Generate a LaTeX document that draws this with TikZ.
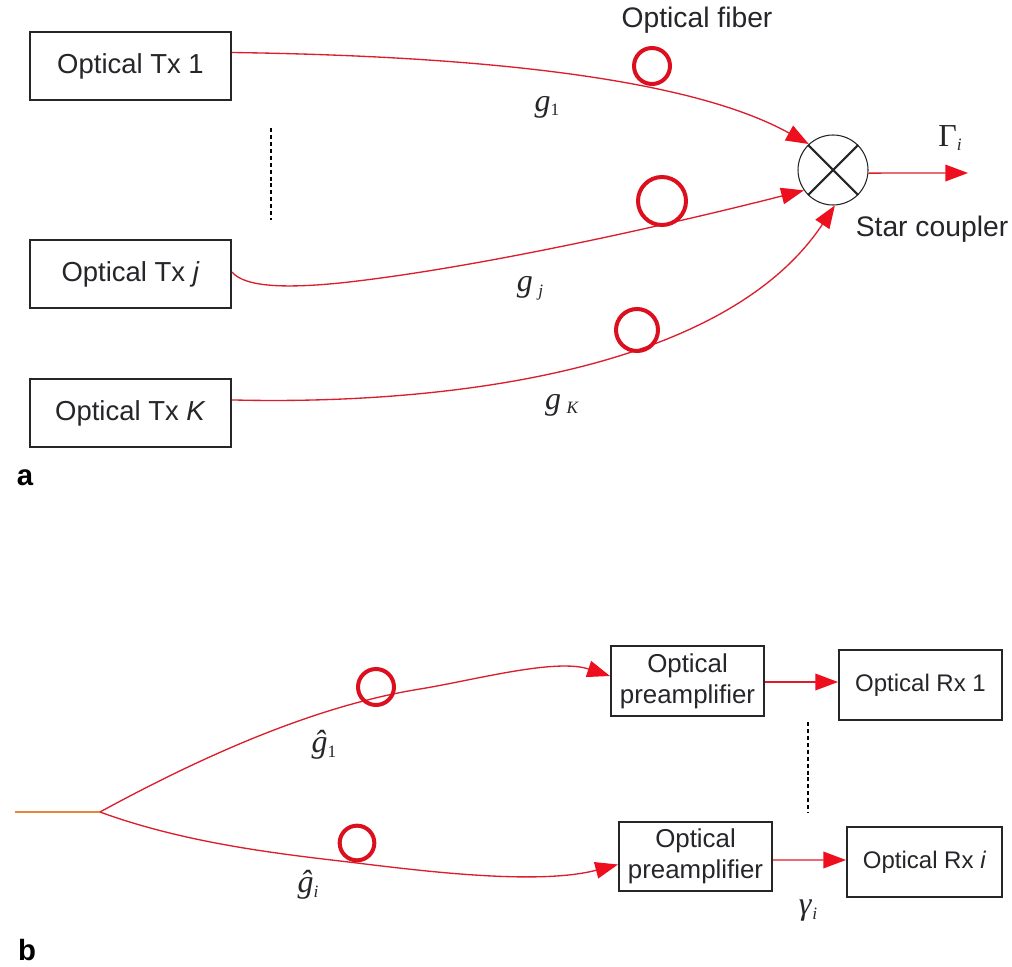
\documentclass[tikz,border=0pt]{standalone}
\usepackage{fontspec}
\setmainfont{Liberation Sans}
\newfontfamily\mathserif{Liberation Serif}
\usetikzlibrary{arrows.meta}
\definecolor{fibre}{HTML}{DC1E2C}
\definecolor{marker}{HTML}{DC0F1E}
\definecolor{tip}{HTML}{EE0F1E}
\definecolor{ink}{HTML}{26262A}
\definecolor{feed}{HTML}{E8853A}
\newcommand{\symb}[2]{{\mathserif\fontsize{24}{26}\selectfont #1\raisebox{-3.5pt}{\fontsize{13}{15}\selectfont #2}}}
\tikzset{
  blockA/.style={draw=ink,line width=1.5pt,fill=white,text=ink,align=center,inner sep=0pt,font=\fontsize{20.6}{24}\selectfont,minimum width=150.75pt,minimum height=51pt},
  blockP/.style={draw=ink,line width=1.5pt,fill=white,text=ink,align=center,inner sep=0pt,font=\fontsize{19.4}{23.5}\selectfont,minimum width=114.75pt,minimum height=52pt},
  blockR/.style={draw=ink,line width=1.5pt,fill=white,text=ink,align=center,inner sep=0pt,font=\fontsize{18}{22}\selectfont,minimum height=52.5pt},
  fibreline/.style={draw=fibre,line width=1pt},
  arrowline/.style={fibreline,-{Triangle[length=17pt,width=12.5pt,color=tip]}},
  loopmark/.style={circle,draw=marker,line width=3pt,inner sep=0pt},
  caption/.style={text=ink,font=\fontsize{21.2}{24}\selectfont,inner sep=0pt},
  symbol/.style={text=ink,inner sep=0pt},
  panel/.style={text=black,font=\fontsize{22}{24}\selectfont\bfseries,inner sep=0pt},
  dots/.style={draw=black,line width=1.5pt,dash pattern=on 3pt off 2.2pt}
}
\begin{document}
\begin{tikzpicture}[x=0.75pt,y=-0.75pt]
\useasboundingbox[fill=white] (0,0) rectangle (1012,966);
% panel a
\node[blockA] (tx1) at (130.5,66.5) {Optical Tx 1};
\node[blockA] (txj) at (130.5,274) {Optical Tx \textit{j}};
\node[blockA] (txk) at (130.5,413) {Optical Tx \textit{K}};
\node[circle,draw=ink,line width=0.8pt,fill=white,minimum size=52.5pt,inner sep=0pt] (star) at (833,170) {};
\draw[ink,line width=1.6pt] (star.45) -- (star.225) (star.135) -- (star.315);
\coordinate (gammaEnd) at (968,173);
\draw[arrowline] (star.-5) -- (gammaEnd);
\draw[arrowline] ([yshift=10.5pt]tx1.east) .. controls (480,56) and (690,78) .. (star.133);
\draw[arrowline] ([yshift=1.5pt]txj.east) .. controls (245,288) and (290,288) .. (340,283) .. controls (480,268) and (680,222) .. (star.215);
\draw[arrowline] ([yshift=9.8pt]txk.east) .. controls (430,405) and (722,376) .. (star.-87);
\node[loopmark,minimum size=27pt] (m1) at (652,66) {};
\node[loopmark,minimum size=36pt] (mj) at (662,201) {};
\node[loopmark,minimum size=31.5pt] (mk) at (637,330) {};
\node[caption] (fibreLabel) at (697,20) {Optical fiber};
\node[caption] (starLabel) at (932,229) {Star coupler};
\node[symbol] (g1) at (547,107) {\symb{\textit{g}}{1}};
\node[symbol] (gj) at (530,288) {\symb{\textit{g}\,}{\textit{j}}};
\node[symbol] (gk) at (562,405) {\symb{\textit{g}\,}{\textit{K}}};
\node[symbol] (bigG) at (950,138) {\symb{Γ}{\textit{i}}};
\coordinate (dotA1) at (271,128);
\coordinate (dotA2) at (271,220);
\draw[dots] (dotA1) -- (dotA2);
\node[panel] (pa) at (25,478) {a};
% panel b
\node[blockP] (pre1) at (687.5,681) {Optical\\preamplifier};
\node[blockP] (pre2) at (695.5,856.5) {Optical\\preamplifier};
\node[blockR,minimum width=122.25pt] (rx1) at (920.5,685) {Optical Rx 1};
\node[blockR,minimum width=116.25pt] (rxi) at (924.5,862) {Optical Rx \textit{i}};
\draw[arrowline] ([yshift=-0.75pt]pre1.east) -- (rx1.west |- {0,682});
\draw[arrowline] ([yshift=-2.6pt]pre2.east) -- (rxi.west |- {0,860});
\coordinate (feedIn) at (15,812);
\coordinate (split) at (100,812);
\draw[feed,line width=1pt] (feedIn) -- (split);
\draw[arrowline] (split) .. controls (210,752) and (320,705) .. (420,689) .. controls (475,680) and (555,658) .. ([yshift=3.75pt]pre1.west);
\draw[arrowline] (split) .. controls (190,845) and (290,855) .. (357,863) .. controls (430,872) and (540,885) .. ([yshift=-6pt]pre2.west);
\node[loopmark,minimum size=27pt] (m2) at (376,687) {};
\node[loopmark,minimum size=26pt] (m3) at (357,843) {};
\node[symbol] (h1) at (324,745) {\symb{\textit{ĝ}}{1}};
\node[symbol] (hi) at (308,885) {\symb{\textit{ĝ}}{\textit{i}}};
\node[symbol] (gam) at (808,911) {\symb{\textit{γ}}{\textit{i}}};
\coordinate (dotB1) at (808,722);
\coordinate (dotB2) at (808,813);
\draw[dots] (dotB1) -- (dotB2);
\node[panel] (pb) at (27,950) {b};
\end{tikzpicture}
\end{document}
